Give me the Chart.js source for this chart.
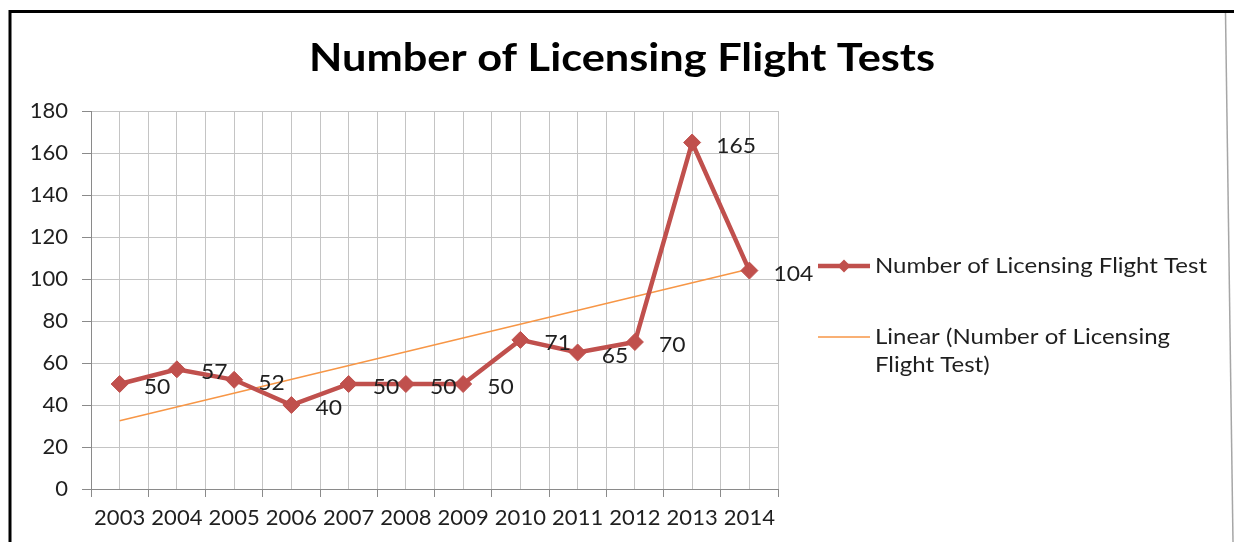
<!DOCTYPE html>
<html>
<head>
<meta charset="utf-8">
<script src="https://cdn.jsdelivr.net/npm/chart.js@4/dist/chart.umd.min.js"></script>
<style>
  html, body { margin: 0; padding: 0; background: #ffffff; }
  #wrap { width: 1234px; height: 542px; position: relative; }
</style>
</head>
<body>
<div id="wrap"><canvas id="chart" width="1234" height="542"></canvas></div>
<script>
// ---- data ----
const categories = ['2003', '2004', '2005', '2006', '2007', '2008', '2009', '2010', '2011', '2012', '2013', '2014'];
const flightTests = [50, 57, 52, 40, 50, 50, 50, 71, 65, 70, 165, 104];
// Excel linear trendline, read at its two ends (2003 and 2014)
const trendLine = [32.5, null, null, null, null, null, null, null, null, null, null, 104.8];
const yTickMin = 0;
const yTickMax = 180;
const yTickStep = 20;
const chartTitle = 'Number of Licensing Flight Tests';
const seriesName = 'Number of Licensing Flight Test';
const trendNameLines = ['Linear (Number of Licensing', 'Flight Test)'];

// ---- styling ----
const FONT = 'Lato, "Open Sans", "DejaVu Sans", sans-serif';
const TEXT = '#1f1f1f';
const RED = '#C0504D';
const ORANGE = '#F79646';
const GRID = '#C4C4C4';
const AXIS = '#8A8A8A';

// draw text stretched horizontally by factor sx (reference text is wider than the available fonts)
function stretchedText(ctx, text, x, y, sx) {
  ctx.save();
  ctx.translate(x, y);
  ctx.scale(sx, 1);
  ctx.fillText(text, 0, 0);
  ctx.restore();
}

const framePlugin = {
  id: 'frame',
  beforeDraw(chart) {
    const ctx = chart.ctx;
    ctx.save();
    ctx.fillStyle = '#ffffff';
    ctx.fillRect(0, 0, chart.width, chart.height);
    ctx.strokeStyle = '#000000';
    ctx.lineWidth = 3;
    ctx.beginPath();
    ctx.moveTo(10, 542);
    ctx.lineTo(10, 11.5);
    ctx.lineTo(1234, 11.5);
    ctx.stroke();
    ctx.strokeStyle = '#A6A6A6';
    ctx.lineWidth = 1.5;
    ctx.beginPath();
    ctx.moveTo(1225.5, 13);
    ctx.lineTo(1233, 542);
    ctx.stroke();
    ctx.restore();
  },
  afterDraw(chart) {
    const ctx = chart.ctx;
    ctx.save();
    ctx.fillStyle = '#000000';
    ctx.font = 'bold 39px ' + FONT;
    ctx.textAlign = 'center';
    ctx.textBaseline = 'middle';
    const w = ctx.measureText(chartTitle).width;
    stretchedText(ctx, chartTitle, 622, 58, 626 / w);
    ctx.restore();
  }
};

const labelPlugin = {
  id: 'valueLabels',
  afterDatasetsDraw(chart) {
    const ctx = chart.ctx;
    const meta = chart.getDatasetMeta(0);
    ctx.save();
    ctx.font = '22px ' + FONT;
    ctx.fillStyle = TEXT;
    ctx.textAlign = 'left';
    ctx.textBaseline = 'middle';
    meta.data.forEach((pt, i) => {
      stretchedText(ctx, String(flightTests[i]), pt.x + 24, pt.y + 3, 1.04);
    });
    ctx.restore();
  }
};

const legendPlugin = {
  id: 'sideLegend',
  afterDraw(chart) {
    const ctx = chart.ctx;
    const x0 = chart.chartArea.right + 40;
    const x1 = x0 + 52;
    const tx = x1 + 5;
    ctx.save();
    ctx.font = '22px ' + FONT;
    const sx = 332 / ctx.measureText(seriesName).width;
    // series entry
    let y = 266;
    ctx.strokeStyle = RED;
    ctx.lineWidth = 4.5;
    ctx.beginPath();
    ctx.moveTo(x0, y);
    ctx.lineTo(x1, y);
    ctx.stroke();
    ctx.fillStyle = RED;
    ctx.beginPath();
    const cx = (x0 + x1) / 2;
    ctx.moveTo(cx, y - 6.5);
    ctx.lineTo(cx + 6.5, y);
    ctx.lineTo(cx, y + 6.5);
    ctx.lineTo(cx - 6.5, y);
    ctx.closePath();
    ctx.fill();
    ctx.fillStyle = TEXT;
    ctx.textAlign = 'left';
    ctx.textBaseline = 'middle';
    stretchedText(ctx, seriesName, tx, y, sx);
    // trend entry
    y = 337;
    ctx.strokeStyle = ORANGE;
    ctx.lineWidth = 1.5;
    ctx.beginPath();
    ctx.moveTo(x0, y);
    ctx.lineTo(x1, y);
    ctx.stroke();
    trendNameLines.forEach((line, i) => stretchedText(ctx, line, tx, y + i * 28, sx));
    ctx.restore();
  }
};

new Chart(document.getElementById('chart'), {
  type: 'line',
  data: {
    labels: categories,
    datasets: [
      {
        label: seriesName,
        data: flightTests,
        borderColor: RED,
        backgroundColor: RED,
        borderWidth: 4.5,
        pointStyle: 'rectRot',
        pointRadius: 8.5,
        pointHoverRadius: 8.5,
        pointBackgroundColor: RED,
        pointBorderColor: RED,
        pointBorderWidth: 1,
        tension: 0,
        xAxisID: 'x',
        yAxisID: 'y'
      },
      {
        label: 'Linear (' + seriesName + ')',
        data: trendLine,
        borderColor: ORANGE,
        borderWidth: 1.5,
        pointRadius: 0,
        pointHoverRadius: 0,
        spanGaps: true,
        tension: 0,
        xAxisID: 'x',
        yAxisID: 'y'
      }
    ]
  },
  options: {
    responsive: false,
    animation: false,
    devicePixelRatio: 1,
    layout: { padding: { left: 0, top: 111, right: 456, bottom: 0 } },
    plugins: {
      legend: { display: false },
      title: { display: false },
      tooltip: { enabled: false }
    },
    scales: {
      x: {
        type: 'category',
        position: 'bottom',
        offset: true,
        grid: { offset: true, color: GRID, lineWidth: 1, drawTicks: true, tickLength: 8, tickColor: AXIS },
        border: { display: true, color: AXIS, width: 1 },
        ticks: { autoSkip: false, maxRotation: 0, minRotation: 0, padding: 8, color: TEXT, font: { family: FONT, size: 22 } },
        afterFit(scale) { scale.height = 53; }
      },
      x2: {
        type: 'category',
        position: 'bottom',
        labels: categories,
        offset: true,
        grid: { offset: false, color: GRID, lineWidth: 1, drawTicks: false },
        border: { display: false },
        ticks: { display: false },
        afterFit(scale) { scale.height = 0; }
      },
      y: {
        min: yTickMin,
        max: yTickMax,
        ticks: { stepSize: yTickStep, padding: 14, color: TEXT, font: { family: FONT, size: 22 } },
        grid: { color: GRID, lineWidth: 1, drawTicks: true, tickLength: 9, tickColor: AXIS },
        border: { display: true, color: AXIS, width: 1 },
        afterFit(scale) { scale.width = 91; }
      }
    }
  },
  plugins: [framePlugin, labelPlugin, legendPlugin]
});
</script>
</body>
</html>
